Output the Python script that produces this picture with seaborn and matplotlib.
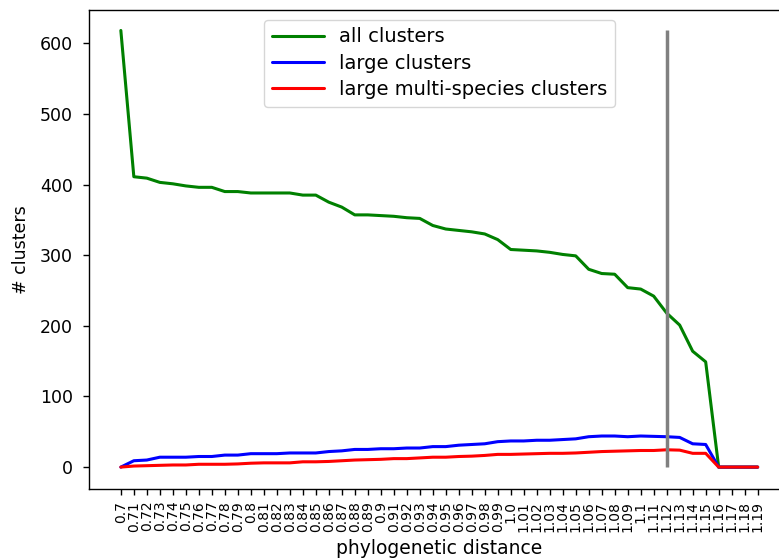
import matplotlib
matplotlib.use("Agg")
import matplotlib.pyplot as plt
import seaborn as sns
import pandas as pd

distances = ["0.7", "0.71", "0.72", "0.73", "0.74", "0.75", "0.76", "0.77", "0.78", "0.79",
             "0.8", "0.81", "0.82", "0.83", "0.84", "0.85", "0.86", "0.87", "0.88", "0.89",
             "0.9", "0.91", "0.92", "0.93", "0.94", "0.95", "0.96", "0.97", "0.98", "0.99",
             "1.0", "1.01", "1.02", "1.03", "1.04", "1.05", "1.06", "1.07", "1.08", "1.09",
             "1.1", "1.11", "1.12", "1.13", "1.14", "1.15", "1.16", "1.17", "1.18", "1.19"]

all_clusters = [618, 411, 409, 403, 401, 398, 396, 396, 390, 390,
                388, 388, 388, 388, 385, 385, 375, 368, 357, 357,
                356, 355, 353, 352, 342, 337, 335, 333, 330, 322,
                308, 307, 306, 304, 301, 299, 280, 274, 273, 254,
                252, 242, 218, 201, 164, 149, 0, 0, 0, 0]

large_clusters = [0, 9, 10, 14, 14, 14, 15, 15, 17, 17,
                  19, 19, 19, 20, 20, 20, 22, 23, 25, 25,
                  26, 26, 27, 27, 29, 29, 31, 32, 33, 36,
                  37, 37, 38, 38, 39, 40, 43, 44, 44, 43,
                  44, 43.5, 43, 42, 33, 32, 0, 0, 0, 0]

large_multi_species = [0, 1.5, 2, 2.5, 3, 3, 4, 4, 4, 4.5,
                       5.5, 6, 6, 6, 7.5, 7.5, 8, 9, 10, 10.5,
                       11, 12, 12, 13, 14, 14, 15, 15.5, 16.5, 18,
                       18, 18.5, 19, 19.5, 19.5, 20, 21, 22, 22.5, 23,
                       23.5, 23.5, 24.5, 24, 19.5, 19.5, 0, 0, 0, 0]

series_names = ["all clusters", "large clusters", "large multi-species clusters"]
series_colors = ["green", "blue", "red"]
cutoff = "1.12"

rows = []
for name, vals in zip(series_names, [all_clusters, large_clusters, large_multi_species]):
    for d, v in zip(distances, vals):
        rows.append({"distance": d, "count": v, "series": name})
df = pd.DataFrame(rows)

sns.set_style("ticks")
plt.rcParams["font.family"] = ["DejaVu Sans"]
plt.rcParams.update({
    "text.color": "black", "axes.labelcolor": "black",
    "xtick.color": "black", "ytick.color": "black", "axes.edgecolor": "black",
})

fig = plt.figure(figsize=(7.79, 5.58), dpi=100)
ax = fig.add_axes([89 / 779, 69 / 558, (789.5 - 89) / 779, (489 - 10) / 558])

sns.lineplot(data=df, x="distance", y="count", hue="series", hue_order=series_names,
             palette=dict(zip(series_names, series_colors)), sort=False,
             linewidth=2.2, ax=ax)

ax.vlines(distances.index(cutoff), 0, max(all_clusters), color="gray", linewidth=2.5)

ax.set_xticks(range(len(distances)))
ax.set_xticklabels(distances, rotation=90, fontsize=10)
ax.tick_params(axis="y", labelsize=12.5, length=4.5, width=1, pad=7)
ax.tick_params(axis="x", length=4.5, width=1, pad=4)
ax.set_xlabel("phylogenetic distance", fontsize=13.5, labelpad=5)
ax.set_ylabel("# clusters", fontsize=12.5, labelpad=7)
ax.set_xlim(-2.45, 51.45)
ax.set_ylim(-31, 647)
for s in ax.spines.values():
    s.set_linewidth(1.0)

leg = ax.legend(loc="upper center", fontsize=14, title=None,
                handlelength=2.7, handletextpad=0.75, labelspacing=0.37)
for line in leg.get_lines():
    line.set_linewidth(2.2)

fig.savefig("out.png", dpi=100)
